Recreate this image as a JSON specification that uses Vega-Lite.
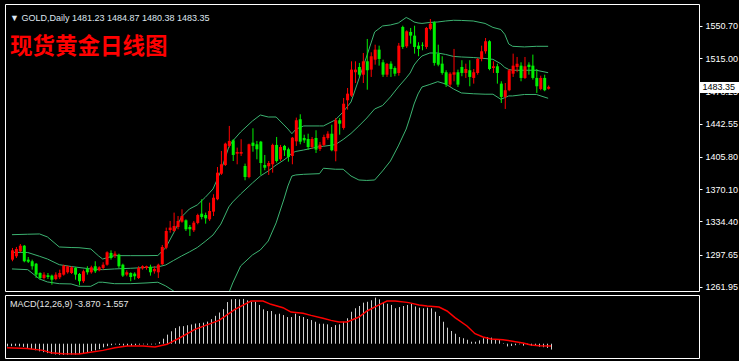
{
"$schema": "https://vega.github.io/schema/vega-lite/v6.json",
"background": "#000000",
"padding": {"top": 3, "left": 3, "right": 0, "bottom": 4},
"bounds": "flush",
"spacing": 4,
"config": {"view": {"stroke": "#ffffff", "strokeWidth": 1}},
"datasets": {
"candles": [
{"i":0,"o":1292.2,"h":1305.1,"l":1290.4,"c":1302.5},
{"i":1,"o":1295.9,"h":1306.2,"l":1294.0,"c":1304.0},
{"i":2,"o":1301.4,"h":1309.5,"l":1300.3,"c":1307.6},
{"i":3,"o":1307.6,"h":1308.4,"l":1289.3,"c":1290.4},
{"i":4,"o":1292.2,"h":1295.1,"l":1288.5,"c":1289.9},
{"i":5,"o":1290.4,"h":1292.2,"l":1281.1,"c":1284.9},
{"i":6,"o":1287.7,"h":1288.5,"l":1271.9,"c":1275.6},
{"i":7,"o":1277.4,"h":1278.2,"l":1270.0,"c":1271.9},
{"i":8,"o":1271.9,"h":1278.2,"l":1270.0,"c":1275.6},
{"i":9,"o":1274.9,"h":1277.4,"l":1270.8,"c":1273.0},
{"i":10,"o":1274.5,"h":1275.6,"l":1264.5,"c":1270.0},
{"i":11,"o":1270.8,"h":1278.2,"l":1269.4,"c":1275.6},
{"i":12,"o":1272.7,"h":1281.1,"l":1270.8,"c":1277.4},
{"i":13,"o":1275.6,"h":1286.6,"l":1274.5,"c":1285.5},
{"i":14,"o":1278.2,"h":1285.5,"l":1276.7,"c":1284.9},
{"i":15,"o":1277.4,"h":1284.9,"l":1276.3,"c":1283.7},
{"i":16,"o":1283.0,"h":1284.1,"l":1270.0,"c":1275.6},
{"i":17,"o":1276.3,"h":1277.4,"l":1263.8,"c":1268.3},
{"i":18,"o":1268.3,"h":1281.1,"l":1266.4,"c":1279.3},
{"i":19,"o":1281.9,"h":1284.9,"l":1275.6,"c":1278.2},
{"i":20,"o":1278.2,"h":1285.5,"l":1276.7,"c":1283.7},
{"i":21,"o":1284.9,"h":1290.4,"l":1277.4,"c":1279.3},
{"i":22,"o":1280.4,"h":1284.9,"l":1279.3,"c":1283.7},
{"i":23,"o":1283.0,"h":1289.3,"l":1281.1,"c":1286.6},
{"i":24,"o":1286.6,"h":1301.4,"l":1285.5,"c":1300.3},
{"i":25,"o":1299.6,"h":1302.5,"l":1292.2,"c":1294.0},
{"i":26,"o":1296.6,"h":1301.4,"l":1294.0,"c":1298.8},
{"i":27,"o":1297.7,"h":1298.8,"l":1283.0,"c":1284.9},
{"i":28,"o":1286.6,"h":1287.7,"l":1273.0,"c":1274.5},
{"i":29,"o":1275.6,"h":1280.4,"l":1273.8,"c":1278.2},
{"i":30,"o":1277.4,"h":1278.2,"l":1268.3,"c":1273.0},
{"i":31,"o":1276.7,"h":1278.2,"l":1270.0,"c":1273.8},
{"i":32,"o":1271.9,"h":1284.9,"l":1270.8,"c":1283.0},
{"i":33,"o":1282.6,"h":1285.9,"l":1281.1,"c":1284.9},
{"i":34,"o":1283.0,"h":1285.5,"l":1281.1,"c":1284.9},
{"i":35,"o":1284.1,"h":1286.6,"l":1274.5,"c":1278.2},
{"i":36,"o":1279.3,"h":1284.9,"l":1276.7,"c":1281.9},
{"i":37,"o":1278.2,"h":1287.7,"l":1271.9,"c":1286.6},
{"i":38,"o":1287.1,"h":1308.4,"l":1286.3,"c":1306.2},
{"i":39,"o":1305.4,"h":1327.6,"l":1303.7,"c":1323.9},
{"i":40,"o":1325.0,"h":1335.0,"l":1322.0,"c":1327.6},
{"i":41,"o":1323.9,"h":1344.2,"l":1323.1,"c":1329.4},
{"i":42,"o":1328.3,"h":1340.5,"l":1325.8,"c":1335.0},
{"i":43,"o":1334.2,"h":1347.9,"l":1333.1,"c":1340.5},
{"i":44,"o":1335.7,"h":1336.8,"l":1323.9,"c":1325.8},
{"i":45,"o":1328.3,"h":1330.5,"l":1318.4,"c":1325.8},
{"i":46,"o":1324.7,"h":1335.0,"l":1322.8,"c":1333.1},
{"i":47,"o":1332.8,"h":1343.0,"l":1331.3,"c":1341.6},
{"i":48,"o":1343.0,"h":1359.0,"l":1336.8,"c":1339.4},
{"i":49,"o":1341.6,"h":1344.2,"l":1332.0,"c":1337.9},
{"i":50,"o":1336.8,"h":1355.2,"l":1335.0,"c":1346.0},
{"i":51,"o":1345.3,"h":1364.5,"l":1340.5,"c":1360.7},
{"i":52,"o":1359.0,"h":1394.7,"l":1357.9,"c":1388.4},
{"i":53,"o":1387.3,"h":1412.4,"l":1385.9,"c":1397.7},
{"i":54,"o":1396.9,"h":1421.6,"l":1395.8,"c":1420.5},
{"i":55,"o":1418.0,"h":1440.1,"l":1416.1,"c":1423.5},
{"i":56,"o":1424.2,"h":1425.4,"l":1401.3,"c":1408.0},
{"i":57,"o":1409.4,"h":1416.1,"l":1397.7,"c":1411.3},
{"i":58,"o":1409.4,"h":1425.4,"l":1406.9,"c":1411.3},
{"i":59,"o":1395.8,"h":1398.4,"l":1380.0,"c":1383.6},
{"i":60,"o":1383.6,"h":1420.5,"l":1382.2,"c":1419.8},
{"i":61,"o":1421.6,"h":1437.5,"l":1411.6,"c":1418.0},
{"i":62,"o":1419.8,"h":1423.5,"l":1403.2,"c":1414.3},
{"i":63,"o":1422.7,"h":1423.5,"l":1385.9,"c":1399.1},
{"i":64,"o":1396.9,"h":1408.0,"l":1391.1,"c":1393.9},
{"i":65,"o":1395.5,"h":1401.3,"l":1385.9,"c":1399.1},
{"i":66,"o":1397.7,"h":1420.5,"l":1388.4,"c":1419.1},
{"i":67,"o":1419.1,"h":1427.9,"l":1399.5,"c":1401.3},
{"i":68,"o":1403.2,"h":1419.1,"l":1401.3,"c":1416.8},
{"i":69,"o":1418.0,"h":1419.1,"l":1406.9,"c":1413.2},
{"i":70,"o":1414.3,"h":1416.1,"l":1400.6,"c":1405.8},
{"i":71,"o":1406.9,"h":1427.9,"l":1397.7,"c":1427.1},
{"i":72,"o":1423.1,"h":1449.3,"l":1418.0,"c":1446.4},
{"i":73,"o":1447.5,"h":1453.0,"l":1419.8,"c":1422.7},
{"i":74,"o":1426.8,"h":1430.4,"l":1421.3,"c":1424.2},
{"i":75,"o":1425.7,"h":1431.5,"l":1413.9,"c":1416.8},
{"i":76,"o":1416.8,"h":1427.9,"l":1414.6,"c":1425.7},
{"i":77,"o":1426.8,"h":1435.3,"l":1410.2,"c":1413.9},
{"i":78,"o":1414.6,"h":1422.4,"l":1412.4,"c":1419.4},
{"i":79,"o":1419.1,"h":1430.4,"l":1417.6,"c":1427.9},
{"i":80,"o":1426.8,"h":1434.2,"l":1424.9,"c":1431.5},
{"i":81,"o":1431.5,"h":1441.5,"l":1412.1,"c":1413.2},
{"i":82,"o":1412.1,"h":1448.9,"l":1401.0,"c":1446.4},
{"i":83,"o":1446.4,"h":1448.9,"l":1430.4,"c":1442.6},
{"i":84,"o":1437.9,"h":1471.0,"l":1436.0,"c":1464.7},
{"i":85,"o":1468.5,"h":1482.1,"l":1458.1,"c":1475.8},
{"i":86,"o":1473.6,"h":1511.6,"l":1472.2,"c":1502.4},
{"i":87,"o":1499.5,"h":1511.6,"l":1487.6,"c":1502.4},
{"i":88,"o":1505.3,"h":1509.8,"l":1494.3,"c":1496.8},
{"i":89,"o":1496.8,"h":1520.8,"l":1487.6,"c":1511.6},
{"i":90,"o":1511.6,"h":1536.3,"l":1480.2,"c":1501.7},
{"i":91,"o":1502.4,"h":1521.6,"l":1494.3,"c":1517.2},
{"i":92,"o":1513.4,"h":1530.0,"l":1507.9,"c":1524.5},
{"i":93,"o":1524.5,"h":1528.9,"l":1506.8,"c":1514.2},
{"i":94,"o":1510.5,"h":1513.4,"l":1494.3,"c":1496.8},
{"i":95,"o":1496.8,"h":1509.8,"l":1494.3,"c":1508.7},
{"i":96,"o":1509.0,"h":1511.6,"l":1494.3,"c":1503.1},
{"i":97,"o":1504.2,"h":1506.1,"l":1495.1,"c":1497.9},
{"i":98,"o":1498.7,"h":1531.9,"l":1495.7,"c":1528.9},
{"i":99,"o":1549.6,"h":1551.0,"l":1525.3,"c":1527.5},
{"i":100,"o":1528.2,"h":1545.9,"l":1526.4,"c":1544.8},
{"i":101,"o":1544.1,"h":1548.5,"l":1531.1,"c":1540.0},
{"i":102,"o":1540.0,"h":1551.0,"l":1520.1,"c":1527.5},
{"i":103,"o":1528.9,"h":1532.7,"l":1517.2,"c":1525.3},
{"i":104,"o":1529.8,"h":1532.7,"l":1523.8,"c":1529.0},
{"i":105,"o":1527.5,"h":1549.6,"l":1525.3,"c":1548.5},
{"i":106,"o":1547.4,"h":1558.4,"l":1545.9,"c":1553.2},
{"i":107,"o":1554.8,"h":1555.9,"l":1506.8,"c":1509.8},
{"i":108,"o":1520.1,"h":1530.0,"l":1506.1,"c":1507.9},
{"i":109,"o":1509.0,"h":1517.2,"l":1496.8,"c":1498.7},
{"i":110,"o":1499.5,"h":1501.7,"l":1483.2,"c":1485.8},
{"i":111,"o":1485.8,"h":1499.5,"l":1483.2,"c":1497.9},
{"i":112,"o":1496.8,"h":1525.3,"l":1489.5,"c":1499.5},
{"i":113,"o":1499.5,"h":1502.4,"l":1483.2,"c":1485.8},
{"i":114,"o":1505.3,"h":1512.8,"l":1495.1,"c":1498.7},
{"i":115,"o":1498.7,"h":1509.0,"l":1493.2,"c":1503.1},
{"i":116,"o":1501.7,"h":1512.8,"l":1484.0,"c":1494.3},
{"i":117,"o":1493.2,"h":1503.1,"l":1486.9,"c":1499.5},
{"i":118,"o":1498.7,"h":1515.3,"l":1496.8,"c":1514.2},
{"i":119,"o":1514.2,"h":1528.9,"l":1511.6,"c":1522.7},
{"i":120,"o":1522.7,"h":1537.4,"l":1520.1,"c":1533.8},
{"i":121,"o":1533.8,"h":1534.9,"l":1501.7,"c":1503.1},
{"i":122,"o":1504.2,"h":1511.6,"l":1498.7,"c":1506.1},
{"i":123,"o":1506.1,"h":1509.0,"l":1486.9,"c":1498.7},
{"i":124,"o":1486.9,"h":1489.5,"l":1465.5,"c":1472.2},
{"i":125,"o":1472.2,"h":1487.6,"l":1458.9,"c":1479.6},
{"i":126,"o":1479.6,"h":1503.1,"l":1478.5,"c":1501.7},
{"i":127,"o":1497.9,"h":1520.1,"l":1494.3,"c":1506.8},
{"i":128,"o":1505.3,"h":1516.4,"l":1499.5,"c":1509.0},
{"i":129,"o":1506.8,"h":1510.5,"l":1489.5,"c":1493.2},
{"i":130,"o":1493.2,"h":1516.4,"l":1492.1,"c":1506.1},
{"i":131,"o":1507.9,"h":1510.5,"l":1496.8,"c":1505.3},
{"i":132,"o":1506.8,"h":1519.0,"l":1491.3,"c":1493.2},
{"i":133,"o":1493.2,"h":1503.1,"l":1476.6,"c":1484.0},
{"i":134,"o":1481.0,"h":1495.7,"l":1479.6,"c":1493.2},
{"i":135,"o":1493.2,"h":1496.8,"l":1478.5,"c":1479.6},
{"i":136,"o":1481.23,"h":1484.87,"l":1480.38,"c":1483.35}
],
"bands": [
{"i":0,"u":1319.8,"m":1300.3,"lo":1281.9},
{"i":4,"u":1320.3,"m":1300.1,"lo":1281.1},
{"i":7,"u":1320.6,"m":1295.9,"lo":1270.8},
{"i":9,"u":1317.3,"m":1292.9,"lo":1267.5},
{"i":12,"u":1306.2,"m":1286.6,"lo":1265.6},
{"i":15,"u":1305.6,"m":1284.6,"lo":1265.3},
{"i":17,"u":1305.4,"m":1283.5,"lo":1262.7},
{"i":20,"u":1304.0,"m":1281.9,"lo":1262.7},
{"i":22,"u":1296.2,"m":1281.3,"lo":1267.2},
{"i":23,"u":1292.9,"m":1281.1,"lo":1267.2},
{"i":26,"u":1296.6,"m":1281.9,"lo":1265.6},
{"i":30,"u":1296.6,"m":1282.6,"lo":1265.6},
{"i":34,"u":1296.6,"m":1283.5,"lo":1266.4},
{"i":37,"u":1296.8,"m":1284.1,"lo":1267.2},
{"i":39,"u":1305.4,"m":1286.3,"lo":1263.1},
{"i":41,"u":1321.7,"m":1291.3,"lo":1257.5},
{"i":43,"u":1339.4,"m":1296.2,"lo":1249.8},
{"i":45,"u":1348.2,"m":1300.7,"lo":1240.9},
{"i":47,"u":1352.7,"m":1305.6,"lo":1233.2},
{"i":49,"u":1361.0,"m":1312.3,"lo":1226.5},
{"i":51,"u":1370.4,"m":1319.5,"lo":1226.5},
{"i":53,"u":1390.3,"m":1331.6,"lo":1235.4},
{"i":55,"u":1416.8,"m":1350.5,"lo":1255.3},
{"i":56,"u":1423.5,"m":1356.0,"lo":1266.4},
{"i":58,"u":1433.4,"m":1364.8,"lo":1285.2},
{"i":61,"u":1445.6,"m":1377.0,"lo":1297.4},
{"i":63,"u":1452.2,"m":1384.7,"lo":1302.9},
{"i":65,"u":1450.0,"m":1390.3,"lo":1312.8},
{"i":67,"u":1450.0,"m":1396.9,"lo":1332.8},
{"i":69,"u":1441.2,"m":1402.5,"lo":1359.3},
{"i":70,"u":1436.7,"m":1405.8,"lo":1373.7},
{"i":71,"u":1431.5,"m":1410.2,"lo":1384.7},
{"i":72,"u":1436.4,"m":1411.9,"lo":1385.9},
{"i":74,"u":1440.1,"m":1413.5,"lo":1386.6},
{"i":78,"u":1440.1,"m":1417.2,"lo":1387.3},
{"i":79,"u":1440.1,"m":1417.6,"lo":1393.3},
{"i":82,"u":1446.7,"m":1419.4,"lo":1392.2},
{"i":84,"u":1455.6,"m":1425.1,"lo":1392.2},
{"i":86,"u":1466.6,"m":1431.8,"lo":1384.7},
{"i":88,"u":1492.1,"m":1440.1,"lo":1380.3},
{"i":90,"u":1517.5,"m":1448.9,"lo":1379.8},
{"i":92,"u":1544.1,"m":1458.9,"lo":1380.3},
{"i":94,"u":1550.7,"m":1462.7,"lo":1390.3},
{"i":96,"u":1551.8,"m":1472.2,"lo":1401.3},
{"i":98,"u":1554.0,"m":1483.2,"lo":1418.0},
{"i":100,"u":1560.1,"m":1493.2,"lo":1436.7},
{"i":101,"u":1557.9,"m":1498.7,"lo":1450.0},
{"i":102,"u":1555.1,"m":1507.5,"lo":1464.4},
{"i":103,"u":1554.0,"m":1513.1,"lo":1475.5},
{"i":104,"u":1553.5,"m":1517.5,"lo":1483.2},
{"i":106,"u":1554.6,"m":1520.8,"lo":1486.0},
{"i":108,"u":1555.1,"m":1520.8,"lo":1489.1},
{"i":110,"u":1556.2,"m":1519.2,"lo":1486.5},
{"i":112,"u":1557.0,"m":1517.0,"lo":1481.0},
{"i":114,"u":1556.8,"m":1516.4,"lo":1476.6},
{"i":117,"u":1556.2,"m":1515.8,"lo":1475.7},
{"i":120,"u":1553.5,"m":1514.7,"lo":1475.2},
{"i":122,"u":1549.1,"m":1513.8,"lo":1475.2},
{"i":124,"u":1546.8,"m":1508.9,"lo":1469.6},
{"i":125,"u":1541.5,"m":1504.8,"lo":1471.4},
{"i":126,"u":1530.8,"m":1502.6,"lo":1473.3},
{"i":127,"u":1528.2,"m":1501.7,"lo":1473.3},
{"i":130,"u":1527.5,"m":1501.7,"lo":1474.9},
{"i":133,"u":1528.2,"m":1501.7,"lo":1474.9},
{"i":136,"u":1528.2,"m":1499.0,"lo":1470.7}
],
"macd": [
{"i":0,"v":-1.8},{"i":1,"v":-1.6},{"i":2,"v":-1.4},{"i":3,"v":-1.7},{"i":4,"v":-2.1},{"i":5,"v":-2.8},{"i":6,"v":-3.6},{"i":7,"v":-4.3},{"i":8,"v":-5.0},{"i":9,"v":-5.6},
{"i":10,"v":-6.2},{"i":11,"v":-6.7},{"i":12,"v":-7.1},{"i":13,"v":-7.3},{"i":14,"v":-7.4},{"i":15,"v":-7.3},{"i":16,"v":-7.1},{"i":17,"v":-7.2},{"i":18,"v":-6.8},{"i":19,"v":-6.2},
{"i":20,"v":-5.6},{"i":21,"v":-4.9},{"i":22,"v":-4.4},{"i":23,"v":-3.6},{"i":24,"v":-2.4},{"i":25,"v":-1.6},{"i":26,"v":-1.0},{"i":27,"v":-0.5},{"i":28,"v":-0.8},{"i":29,"v":-1.2},
{"i":30,"v":-1.4},{"i":31,"v":-1.5},{"i":32,"v":-1.0},{"i":33,"v":-0.6},{"i":34,"v":-0.4},{"i":35,"v":-0.6},{"i":36,"v":-0.5},{"i":37,"v":-0.4},{"i":38,"v":1.2},{"i":39,"v":3.3},
{"i":40,"v":6.0},{"i":41,"v":8.2},{"i":42,"v":10.3},{"i":43,"v":11.5},{"i":44,"v":11.6},{"i":45,"v":12.2},{"i":46,"v":12.7},{"i":47,"v":13.3},{"i":48,"v":13.6},{"i":49,"v":13.9},
{"i":50,"v":14.6},{"i":51,"v":16.2},{"i":52,"v":18.4},{"i":53,"v":20.6},{"i":54,"v":22.8},{"i":55,"v":27.5},{"i":56,"v":29.3},{"i":57,"v":29.5},{"i":58,"v":29.3},{"i":59,"v":29.6},
{"i":60,"v":28.6},{"i":61,"v":27.7},{"i":62,"v":27.7},{"i":63,"v":25.6},{"i":64,"v":22.7},{"i":65,"v":21.6},{"i":66,"v":21.6},{"i":67,"v":19.4},{"i":68,"v":19.8},{"i":69,"v":18.9},
{"i":70,"v":17.6},{"i":71,"v":17.6},{"i":72,"v":19.8},{"i":73,"v":18.3},{"i":74,"v":17.6},{"i":75,"v":16.3},{"i":76,"v":15.6},{"i":77,"v":14.5},{"i":78,"v":13.2},{"i":79,"v":13.2},
{"i":80,"v":12.8},{"i":81,"v":11.0},{"i":82,"v":12.3},{"i":83,"v":12.8},{"i":84,"v":14.5},{"i":85,"v":16.8},{"i":86,"v":21.1},{"i":87,"v":23.4},{"i":88,"v":24.9},{"i":89,"v":27.1},
{"i":90,"v":27.7},{"i":91,"v":28.7},{"i":92,"v":30.4},{"i":93,"v":29.3},{"i":94,"v":27.1},{"i":95,"v":26.4},{"i":96,"v":25.6},{"i":97,"v":23.4},{"i":98,"v":24.2},{"i":99,"v":24.9},
{"i":100,"v":25.6},{"i":101,"v":26.4},{"i":102,"v":24.6},{"i":103,"v":23.8},{"i":104,"v":23.4},{"i":105,"v":23.8},{"i":106,"v":23.4},{"i":107,"v":21.1},{"i":108,"v":18.3},{"i":109,"v":14.5},
{"i":110,"v":10.6},{"i":111,"v":8.4},{"i":112,"v":6.6},{"i":113,"v":4.4},{"i":114,"v":3.6},{"i":115,"v":2.6},{"i":116,"v":1.3},{"i":117,"v":1.3},{"i":118,"v":2.2},{"i":119,"v":3.6},
{"i":120,"v":4.4},{"i":121,"v":4.0},{"i":122,"v":2.6},{"i":123,"v":2.4},{"i":124,"v":0.3},{"i":125,"v":-1.8},{"i":126,"v":-1.5},{"i":127,"v":-1.0},{"i":128,"v":-0.4},{"i":129,"v":-1.3},
{"i":130,"v":-0.8},{"i":131,"v":-1.4},{"i":132,"v":-1.2},{"i":133,"v":-2.0},{"i":134,"v":-2.3},{"i":135,"v":-2.8},{"i":136,"v":-3.87}
],
"signal": [
{"i":0,"s":-2.6},{"i":5,"s":-3.1},{"i":9,"s":-4.4},{"i":11,"s":-5.9},{"i":14,"s":-6.6},{"i":18,"s":-6.8},{"i":20,"s":-5.9},{"i":24,"s":-4.4},{"i":27,"s":-2.6},{"i":30,"s":-1.5},
{"i":34,"s":-1.5},{"i":37,"s":-2.2},{"i":40,"s":-0.4},{"i":43,"s":3.6},{"i":47,"s":9.5},{"i":53,"s":15.4},{"i":57,"s":22.7},{"i":61,"s":28.2},{"i":64,"s":28.2},{"i":66,"s":26.0},
{"i":69,"s":23.8},{"i":71,"s":20.9},{"i":74,"s":20.1},{"i":76,"s":18.7},{"i":79,"s":16.8},{"i":81,"s":15.4},{"i":83,"s":14.3},{"i":85,"s":14.3},{"i":88,"s":17.6},{"i":90,"s":21.6},
{"i":93,"s":25.6},{"i":95,"s":28.2},{"i":97,"s":28.2},{"i":100,"s":27.3},{"i":101,"s":26.8},{"i":103,"s":25.6},{"i":105,"s":24.9},{"i":108,"s":24.2},{"i":110,"s":21.6},{"i":112,"s":17.2},
{"i":115,"s":11.7},{"i":117,"s":6.6},{"i":119,"s":4.4},{"i":121,"s":3.1},{"i":124,"s":2.6},{"i":126,"s":1.8},{"i":129,"s":0.5},{"i":131,"s":-0.9},{"i":133,"s":-1.3},{"i":136,"s":-1.557}
]
},
"vconcat": [
{
"width": 694,
"height": 287,
"title": {"text": "▼  GOLD,Daily  1481.23 1484.87 1480.38 1483.35", "subtitle": "\u00a0\u00a0现货黄金日线图", "anchor": "start", "frame": "group", "orient": "top", "offset": -54, "dx": 5, "color": "#dfe6ef", "font": "Liberation Sans", "fontSize": 9, "fontWeight": "normal", "subtitleColor": "#ff0000", "subtitleFont": "Noto Sans CJK SC", "subtitleFontSize": 22.5, "subtitleFontWeight": "bold", "subtitlePadding": 13},
"resolve": {"axis": {"y": "independent"}},
"layer": [
{"data": {"name": "bands"}, "mark": {"type": "line", "color": "#3cb371", "strokeWidth": 1, "clip": true},
 "encoding": {"x": {"field": "i", "type": "quantitative", "scale": {"domain": [-0.5, 173]}, "axis": null},
  "y": {"field": "u", "type": "quantitative", "scale": {"domain": [1257.5, 1575.0]}, "axis": null}}},
{"data": {"name": "bands"}, "mark": {"type": "line", "color": "#3cb371", "strokeWidth": 1, "clip": true},
 "encoding": {"x": {"field": "i", "type": "quantitative", "scale": {"domain": [-0.5, 173]}, "axis": null},
  "y": {"field": "m", "type": "quantitative", "scale": {"domain": [1257.5, 1575.0]}, "axis": null}}},
{"data": {"name": "bands"}, "mark": {"type": "line", "color": "#3cb371", "strokeWidth": 1, "clip": true},
 "encoding": {"x": {"field": "i", "type": "quantitative", "scale": {"domain": [-0.5, 173]}, "axis": null},
  "y": {"field": "lo", "type": "quantitative", "scale": {"domain": [1257.5, 1575.0]}, "axis": null}}},
{"data": {"name": "candles"}, "mark": {"type": "rule", "strokeWidth": 1, "clip": true, "xOffset": 0.5},
 "encoding": {"x": {"field": "i", "type": "quantitative", "scale": {"domain": [-0.5, 173]}, "axis": null},
  "y": {"field": "l", "type": "quantitative", "scale": {"domain": [1257.5, 1575.0]},
   "axis": {"orient": "right", "title": null, "values": [1261.95, 1297.65, 1334.4, 1370.1, 1405.8, 1442.55, 1478.25, 1515, 1550.7], "format": ".2f", "grid": false, "domain": false, "tickColor": "#ffffff", "tickSize": 3, "labelColor": "#ffffff", "labelFont": "Liberation Sans", "labelFontSize": 9, "labelPadding": 3, "labelBaseline": "middle", "labelOverlap": false, "labelFlush": false}},
  "y2": {"field": "h"},
  "color": {"condition": {"test": "datum.c >= datum.o", "value": "#ff0000"}, "value": "#00f000"}}},
{"data": {"name": "candles"}, "mark": {"type": "bar", "width": 3, "clip": true, "xOffset": 0.5},
 "encoding": {"x": {"field": "i", "type": "quantitative", "scale": {"domain": [-0.5, 173]}, "axis": null},
  "y": {"field": "o", "type": "quantitative", "scale": {"domain": [1257.5, 1575.0]},
   "axis": {"orient": "right", "title": null, "values": [1483.35], "format": ".2f", "grid": false, "domain": false, "ticks": true, "tickColor": "#ffffff", "tickSize": 42, "tickWidth": 11, "labelColor": "#000000", "labelFont": "Liberation Sans", "labelFontSize": 9, "labelPadding": -39, "labelBaseline": "middle", "labelOverlap": false, "labelFlush": false, "zindex": 2}},
  "y2": {"field": "c"},
  "color": {"condition": {"test": "datum.c >= datum.o", "value": "#ff0000"}, "value": "#00f000"}}}
]
},
{
"width": 694,
"height": 63,
"title": {"text": "MACD(12,26,9) -3.870 -1.557", "anchor": "start", "frame": "group", "orient": "top", "offset": -14, "dx": 5, "color": "#e6e6e6", "font": "Liberation Sans", "fontSize": 9, "fontWeight": "normal"},
"layer": [
{"data": {"name": "macd"}, "mark": {"type": "rule", "color": "#d0d0d0", "strokeWidth": 1, "xOffset": 0.5},
 "encoding": {"x": {"field": "i", "type": "quantitative", "scale": {"domain": [-0.5, 173]}, "axis": null},
  "y": {"field": "v", "type": "quantitative", "scale": {"domain": [-9.436, 32.171]},
   "axis": {"orient": "right", "title": null, "values": [32.171, 0, -9.436], "labelExpr": "datum.value > 30 ? '32.171' : (datum.value < -5 ? '-9.436' : '0.00')", "grid": false, "domain": false, "tickColor": "#ffffff", "tickSize": 3, "labelColor": "#ffffff", "labelFont": "Liberation Sans", "labelFontSize": 9, "labelPadding": 3, "labelFlush": true, "labelOverlap": false}},
  "y2": {"datum": 0}}},
{"data": {"name": "signal"}, "mark": {"type": "line", "color": "#ff0000", "strokeWidth": 1.5},
 "encoding": {"x": {"field": "i", "type": "quantitative", "scale": {"domain": [-0.5, 173]}, "axis": null},
  "y": {"field": "s", "type": "quantitative", "scale": {"domain": [-9.436, 32.171]}, "axis": null}}}
]
}
]
}
